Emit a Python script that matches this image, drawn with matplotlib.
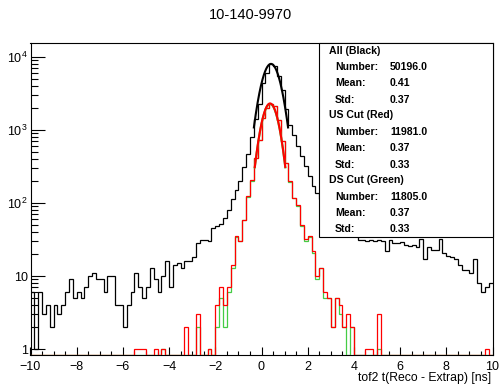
import numpy as np
import matplotlib
matplotlib.use("Agg")
import matplotlib.pyplot as plt
from matplotlib.patches import Rectangle
from matplotlib.ticker import FixedLocator, NullFormatter, MultipleLocator

plt.rcParams['font.family'] = ['Liberation Sans', 'DejaVu Sans']
plt.rcParams['mathtext.default'] = 'regular'

# 120 bins from -10 to 10 ns
x_min, x_max, n_bins = -10, 10, 120

all_counts = [
    6, 1, 6, 3, 4, 2, 4, 3, 4, 6,
    9, 5, 6, 5, 7, 10, 11, 9, 9, 6,
    10, 10, 4, 4, 2, 4, 6, 11, 7, 5,
    7, 13, 9, 6, 10, 16, 7, 14, 15, 13,
    16, 16, 18, 28, 31, 31, 30, 46, 49, 52,
    62, 79, 115, 150, 200, 310, 460, 800, 1400, 2220,
    4380, 6000, 7800, 7400, 5400, 3550, 1900, 1180, 860, 600,
    435, 317, 230, 170, 137, 115, 95, 82, 72, 63,
    56, 50, 45, 41, 38, 31, 31, 30, 31, 30,
    31, 30, 22, 31, 28, 28, 29, 27, 26, 27,
    25, 32, 17, 25, 23, 23, 32, 21, 19, 18,
    17, 14, 12, 12, 11, 17, 8, 6, 7, 8,
]

us_counts = [
    0, 0, 0, 0, 0, 0, 0, 0, 0, 0,
    0, 0, 0, 0, 0, 0, 0, 0, 0, 0,
    0, 0, 0, 0, 0, 0, 0, 1, 1, 1,
    0, 0, 1, 0, 1, 0, 0, 0, 0, 0,
    2, 0, 0, 3, 0, 0, 1, 0, 4, 7,
    4, 7, 14, 35, 30, 59, 123, 205, 415, 735,
    1450, 2000, 2270, 2100, 1380, 700, 355, 198, 118, 95,
    50, 32, 35, 22, 10, 13, 6, 5, 2, 5,
    4, 2, 3, 2, 0, 0, 0, 1, 1, 0,
    3, 0, 0, 0, 0, 0, 0, 0, 0, 0,
    0, 0, 0, 0, 0, 0, 0, 0, 0, 0,
    0, 0, 0, 0, 0, 0, 0, 0, 1, 0,
]

ds_counts = [
    0, 0, 0, 0, 0, 0, 0, 0, 0, 0,
    0, 0, 0, 0, 0, 0, 0, 0, 0, 0,
    0, 0, 0, 0, 0, 0, 0, 0, 0, 0,
    0, 0, 0, 0, 1, 0, 0, 0, 0, 0,
    0, 0, 0, 2, 0, 0, 1, 0, 2, 5,
    2, 6, 13, 34, 30, 58, 121, 202, 410, 728,
    1440, 1985, 2250, 2085, 1370, 695, 350, 195, 116, 92,
    49, 30, 34, 21, 9, 13, 5, 5, 2, 5,
    3, 2, 0, 2, 0, 0, 0, 0, 0, 0,
    1, 0, 0, 0, 0, 0, 0, 0, 0, 0,
    0, 0, 0, 0, 0, 0, 0, 0, 0, 0,
    0, 0, 0, 0, 0, 0, 0, 0, 0, 0,
]

# gaussian fits: (peak height, mean, sigma)
fit_all = (7950, 0.41, 0.37)
fit_us = (2290, 0.37, 0.33)
fit_ds = (2260, 0.37, 0.33)

stat_blocks = [
    ("All (Black)", "50196.0", "0.41", "0.37"),
    ("US Cut (Red)", "11981.0", "0.37", "0.33"),
    ("DS Cut (Green)", "11805.0", "0.37", "0.33"),
]

y_ticks = [1, 10, 100, 1000, 10000]
y_tick_labels = ["1", "10", r"$10^{2}$", r"$10^{3}$", r"$10^{4}$"]

y_lo, y_hi = 0.836, 15500

fig = plt.figure(figsize=(5.0, 3.84), dpi=100)
ax = fig.add_axes([0.061, 0.0755, 0.924, 0.8134])
ax.set_yscale('log')

edges = np.linspace(x_min, x_max, n_bins + 1)

def draw_hist(counts, color, lw, z):
    vals = np.array(counts, dtype=float)
    vals[vals <= 0] = y_lo  # empty bins sit on the bottom, like ROOT
    ax.stairs(vals, edges, baseline=None, color=color, lw=lw, zorder=z)

def draw_fit(params, color, z):
    amp, mu, sig = params
    xs = np.linspace(mu - 2 * sig, mu + 2 * sig, 200)
    ax.plot(xs, amp * np.exp(-0.5 * ((xs - mu) / sig) ** 2), color=color, lw=1.5, zorder=z)

draw_hist(all_counts, 'black', 0.9, 2)
draw_hist(ds_counts, '#44cc44', 0.9, 3)
draw_hist(us_counts, '#ff0000', 0.9, 4)
draw_fit(fit_all, 'black', 4.5)
draw_fit(fit_ds, '#44cc44', 4.4)
draw_fit(fit_us, '#ff0000', 4.6)

ax.set_xlim(x_min, x_max)
ax.set_ylim(y_lo, y_hi)

ax.xaxis.set_major_locator(MultipleLocator(2))
ax.xaxis.set_minor_locator(MultipleLocator(0.5))
ax.yaxis.set_major_locator(FixedLocator(y_ticks))
ax.set_yticklabels(y_tick_labels)
minor_y = [m * 10 ** d for d in range(0, 5) for m in range(2, 10) if m * 10 ** d < y_hi]
ax.yaxis.set_minor_locator(FixedLocator(minor_y))
ax.yaxis.set_minor_formatter(NullFormatter())

ax.tick_params(axis='both', which='both', direction='in', top=False, right=False,
               width=0.8, labelsize=9, color='black')
ax.tick_params(axis='x', which='major', length=6, pad=4)
ax.tick_params(axis='x', which='minor', length=3)
ax.tick_params(axis='y', which='major', length=10, pad=2)
ax.tick_params(axis='y', which='minor', length=5)
for sp in ax.spines.values():
    sp.set_linewidth(0.8)

# stats box
ax.add_patch(Rectangle((0.625, 0.377), 0.375, 0.623, transform=ax.transAxes,
                       facecolor='white', edgecolor='black', lw=0.8, zorder=5, clip_on=False))

def px_to_ax_y(py):
    return (355 - py) / 312.3

def px_to_ax_x(px):
    return (px - 30.5) / 462.0

row_y = [50.7, 66.7, 83.3, 100, 115, 131.7, 148.3, 165, 180, 197, 213.3, 229.3]
txt_kw = dict(transform=ax.transAxes, fontsize=7.6, fontweight='bold', va='center', zorder=6)
k = 0
for title, num, mean, std in stat_blocks:
    ax.text(px_to_ax_x(329), px_to_ax_y(row_y[k]), title, ha='left', **txt_kw)
    for lab, val in (("Number:", num), ("Mean:", mean), ("Std:", std)):
        k += 1
        ax.text(px_to_ax_x(335), px_to_ax_y(row_y[k]), lab, ha='left', **txt_kw)
        ax.text(px_to_ax_x(390), px_to_ax_y(row_y[k]), val, ha='left', **txt_kw)
    k += 1

fig.text(0.5, 1 - 15 / 384, "10-140-9970", ha='center', va='center', fontsize=10.5)
fig.text(490.7 / 500, 1 - 378 / 384, "tof2 t(Reco - Extrap) [ns]", ha='right', va='center', fontsize=8.8)

fig.savefig("out.png", dpi=100)
